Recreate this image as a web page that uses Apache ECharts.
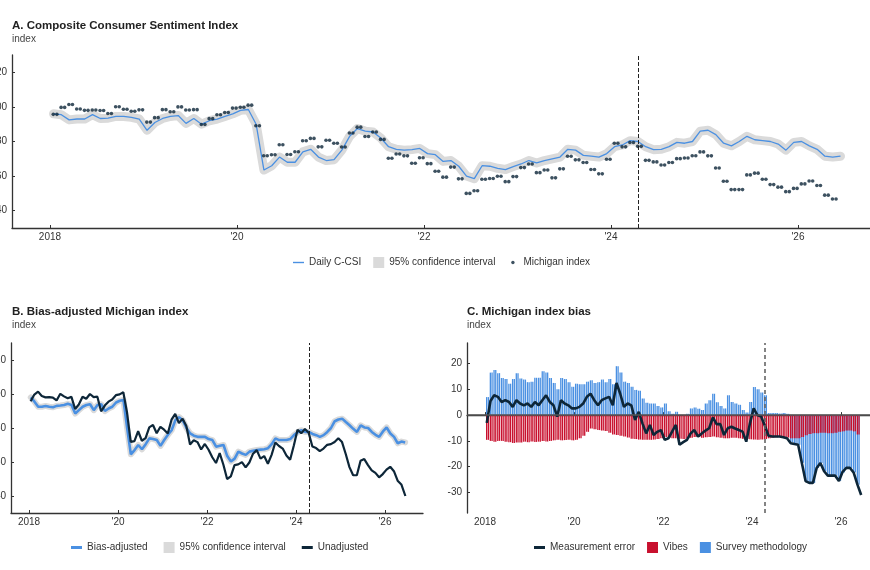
<!DOCTYPE html>
<html>
<head>
<meta charset="utf-8">
<script src="https://cdn.jsdelivr.net/npm/echarts@6/dist/echarts.min.js"></script>
<style>
  html, body { margin: 0; padding: 0; background: #fff; }
  #chart { width: 870px; height: 570px; }
</style>
</head>
<body>
<div id="chart"></div>
<script>
// monthly values, first month is Jan 2018
const startYear = 2018;

// Michigan index, Jan 2018 - May 2026 (shown at both monthly releases)
const michigan = [
  95.7, 99.7, 101.4, 98.8, 98.0, 98.2, 97.9, 96.2, 100.1, 98.6, 97.5, 98.3,
  91.2, 93.8, 98.4, 97.2, 100.0, 98.2, 98.4, 89.8, 93.2, 95.5, 96.8, 99.3,
  99.8, 101.0, 89.1, 71.8, 72.3, 78.1, 72.5, 74.1, 80.4, 81.8, 76.9, 80.7,
  79.0, 76.8, 84.9, 88.3, 82.9, 85.5, 81.2, 70.3, 72.8, 71.7, 67.4, 70.6,
  67.2, 62.8, 59.4, 65.2, 58.4, 50.0, 51.5, 58.2, 58.6, 59.9, 56.8, 59.7,
  64.9, 67.0, 62.0, 63.5, 59.0, 64.2, 71.5, 69.4, 67.9, 63.8, 61.3, 69.7,
  79.0, 76.9, 79.4, 77.2, 69.1, 68.2, 66.4, 67.9, 70.1, 70.5, 71.8, 74.0,
  71.7, 64.7, 57.0, 52.2, 52.2, 60.7, 61.7, 58.2, 55.1, 53.6, 51.0, 52.9,
  55.5, 57.2, 54.6, 49.0, 46.8
];
// latest preliminary reading (mid-June 2026), only in the unadjusted line
const latestYear = 2026.46;
const latestValue = 40;

// Daily C-CSI, read once a month, Jan 2018 - Jun 2026
const ccsi = [
  96, 95.5, 92.5, 93, 93, 95.5, 93.3, 93.5, 94.5, 94.5, 94, 93,
  86.5, 91, 93.3, 94.5, 95, 90.5, 93.3, 90, 92, 93, 94.5, 96,
  98, 98.5, 90, 63.5, 66, 71, 68, 68, 74, 75.5, 71, 69,
  69.5, 75, 83, 87.5, 86, 85.5, 82, 77, 75.5, 75, 75.3, 76,
  73, 72.4, 68.5, 69, 65.7, 60, 58.5, 66, 65.7, 64.5, 63.8, 65.5,
  67, 69, 67.6, 69, 70, 71, 75.5, 75, 72, 71.5, 71, 73,
  77, 78, 80.5, 80, 77, 75.3, 75.5, 77, 79.5, 79, 80, 86,
  86.5, 84, 79, 77.5, 80, 83, 81, 80.5, 80, 78.5, 75, 79.5,
  80, 77.5, 75.5, 71.5, 71, 71.5
];

// Bias-adjusted Michigan index, Jan 2018 - Jun 2026
const biasAdjusted = [
  98, 95.5, 92.5, 92.5, 93, 92.5, 92.2, 93, 93.2, 93.5, 94.2, 93.5,
  88.5, 90.5, 92.5, 93.5, 94, 90.5, 93.5, 94, 90, 91.5, 92.5, 95,
  96, 96.5, 80, 64.5, 67, 70, 67.5, 70.5, 73.9, 73.5, 72.9, 69.5,
  72.9, 76, 78.7, 84.5, 86.4, 84.5, 80, 76.8, 75.5, 74.8, 74.8, 74.8,
  73.5, 72.9, 69, 69.5, 70, 63.5, 60.3, 62, 66.1, 65, 64.2, 66.1,
  66.6, 67.1, 67.3, 67.5, 68.1, 70.5, 73.9, 72.9, 72.9, 72.9, 73.5, 75.8,
  77.5, 78.7, 77.7, 77.7, 76.5, 75.8, 74.8, 75.8, 77.7, 80, 84, 85,
  85.5, 83.5, 81.6, 79.5, 77.7, 81.6, 80.3, 80, 77.7, 76, 74.8, 78,
  80.3, 76.8, 74.8, 71, 72, 71.5
];

// Michigan index bias, Jan 2018 - Jun 2026
const measurementError = [
  -3, 5.5, 7.7, 7.1, 5.1, 5.8, 5.1, 3.2, 5.8, 4.5, 3.8, 4.5,
  3.2, 5.1, 3.8, 5.8, 7.7, 5.1, 3.8, -0.6, 5.8, 4.5, 3.8, 2.6,
  2.6, 3.2, 4.5, 7.1, 8.3, 5.8, 3.8, 5.8, 6.5, 7.1, 3.8, 12.5,
  8.3, 3.2, 4.5, 3.8, -1.9, 1.3, -3.2, -7.1, -3.8, -7.7, -6.5, -5.8,
  -9.6, -9, -6.4, -3.8, -11.5, -10.5, -9.6, -7.1, -5.8, -8.3, -7.1, -6,
  -5.1, -0.9, -3.5, -3.5, -7.7, -5.1, -4.5, -5.2, -5.8, -6.4, -10.3, -3.2,
  2.6, 0, -0.5, -4, -8, -8.3, -8.3, -8.3, -8.6, -9, -10.9, -11.2,
  -11.5, -18.6, -25.6, -26.3, -26.3, -20.5, -18.6, -21.8, -23.5, -23.5, -23.5, -25.6,
  -22, -20.5, -20.5, -22.4, -27, -31
];

// decomposition, Jan 2018 - May 2026
const vibes = [
  -9.6, -10, -10.3, -10, -10, -10.3, -10.5, -10.8, -10.6, -10.6, -10.3, -10.5,
  -10.2, -10.4, -10.3, -10, -10.2, -10, -9.8, -9.6, -9.8, -9.7, -9.6, -9.8,
  -9.6, -9, -8, -6.5, -5.2, -5.5, -5.8, -6, -6.2, -6.8, -7.5, -7.7,
  -8, -8.3, -8.7, -9.2, -9.3, -9.5, -9.6, -9.6, -9.6, -9.5, -9.3, -9,
  -8.5, -8.8, -9, -9, -9.2, -9.3, -9, -8.8, -8.5, -8.5, -8.8, -8.6,
  -8.5, -8.3, -8.6, -8.8, -9, -9, -8.8, -8.8, -9, -9.2, -9.3, -9.4,
  -9.5, -9.6, -9.5, -9.3, -9, -8.8, -8.6, -8.5, -8.5, -8.7, -9, -9,
  -9, -8.5, -7.8, -7.3, -7, -7, -6.8, -6.8, -7, -7, -6.8, -6.5,
  -6.3, -6, -6, -6.3, -7.5
];
const surveyMethod = [
  7, 16.5, 17.5, 16.3, 14.4, 14, 12.2, 14, 16.3, 14.2, 13.8, 12.8,
  13, 14.5, 14.5, 17, 16.5, 14.4, 12.5, 10, 14.4, 14, 12.8, 11,
  12.2, 12, 12, 13, 13.5, 12.5, 12.8, 13.8, 12.8, 14, 12, 19,
  16.5, 13, 12.5, 11, 9.8, 9.5, 6.5, 4.8, 4.5, 4.5, 3.5, 3,
  4.5, 1.5, 0.5, 1.3, 0, 0, 0.5, 2.6, 3, 2.5, 2, 4.5,
  5.8, 8.3, 5, 3.5, 2.6, 7.7, 5.1, 4.5, 4, 2, 1, 5.1,
  10.9, 10, 8.8, 7.7, 0.8, 0.8, 0.8, 0.6, 0.8, 0.5, -1.5, -2,
  -2.5, -10, -17.8, -19, -19.3, -13.5, -11.8, -15, -16.5, -16.5, -16.7, -19,
  -16, -14.5, -14.5, -16, -19.5
];

const xTickYears = [2018, 2020, 2022, 2024, 2026];
const indexTicks = [40, 60, 80, 100, 120];
const biasTicks = [-30, -20, -10, 0, 10, 20];
const breakYear = 2024.29;   // mid-April 2024
const xMin = 2017.594;
const xMax = 2026.856;

const FONT = '"Liberation Sans", Arial, sans-serif';
const BLUE = '#4a90e2';
const NAVY = '#0d2638';
const RED = '#c8102e';
const GREY = '#dadada';

// decimal year of a given day in month i (i = 0 is Jan 2018)
const monthPos = (i, day) => startYear + (i + (day - 1) / 30.4) / 12;
const midMonth = arr => arr.map((v, i) => [monthPos(i, 15), v]);
const releases = arr => arr.flatMap((v, i) => [[monthPos(i, 14), v], [monthPos(i, 28), v]]);

// survey bars sit below the vibes bars when negative (manual stacking,
// since the x axis is a value axis)
const surveyEnds = surveyMethod.map((s, i) => (s < 0 ? vibes[i] + s : s));

function yearLabel(val) {
  const y = Math.round(val);
  return y === 2018 ? '2018' : "'" + String(y).slice(2);
}

function xAxisCfg(gridIndex) {
  return {
    type: 'value', gridIndex: gridIndex, min: xMin, max: xMax,
    axisLine: { lineStyle: { color: '#333', width: 1.3 } },
    axisTick: { show: true, inside: true, length: 3, customValues: xTickYears, lineStyle: { color: '#333' } },
    axisLabel: { customValues: xTickYears, formatter: yearLabel, color: '#333', fontSize: 10, margin: 4, fontFamily: FONT },
    splitLine: { show: false }
  };
}
function yAxisCfg(gridIndex, min, max, ticks) {
  return {
    type: 'value', gridIndex: gridIndex, min: min, max: max,
    axisLine: { show: true, lineStyle: { color: '#333', width: 1.3 } },
    axisTick: { show: true, inside: true, length: 3, customValues: ticks, lineStyle: { color: '#333' } },
    axisLabel: { customValues: ticks, color: '#333', fontSize: 10, margin: 5, fontFamily: FONT },
    splitLine: { show: false }
  };
}

const titleStyle = { fontSize: 11.5, fontWeight: 'bold', color: '#222', fontFamily: FONT };
const subStyle = { fontSize: 10, color: '#444', fontFamily: FONT };
const legendText = { fontSize: 10, color: '#333', fontFamily: FONT };
// legend icons inside an 11 x 11 box
const dotIcon = 'path://M0,0M11,11M3.8,5.5a1.7,1.7,0,1,0,3.4,0a1.7,1.7,0,1,0,-3.4,0z';
const thinLineIcon = 'path://M0,0M11,11M0,4.8L11,4.8L11,6.2L0,6.2z';
const thickLineIcon = 'path://M0,0M11,11M0,4L11,4L11,7L0,7z';

const breakLine = {
  symbol: 'none', silent: true, label: { show: false },
  lineStyle: { type: 'dashed', color: '#222', width: 1 },
  data: [{ xAxis: breakYear }]
};

const chart = echarts.init(document.getElementById('chart'));
chart.setOption({
  animation: false,
  backgroundColor: '#fff',
  title: [
    { text: 'A. Composite Consumer Sentiment Index', subtext: 'index', left: 7, top: 15, itemGap: 2, textStyle: titleStyle, subtextStyle: subStyle },
    { text: 'B. Bias-adjusted Michigan index', subtext: 'index', left: 7, top: 301, itemGap: 2, textStyle: titleStyle, subtextStyle: subStyle },
    { text: 'C. Michigan index bias', subtext: 'index', left: 462, top: 301, itemGap: 2, textStyle: titleStyle, subtextStyle: subStyle }
  ],
  legend: [
    {
      left: 288, top: 252, itemWidth: 11, itemHeight: 11, itemGap: 12, selectedMode: false, textStyle: legendText,
      data: [
        { name: 'Daily C-CSI', icon: thinLineIcon },
        { name: '95% confidence interval', icon: 'rect', itemStyle: { color: GREY } },
        { name: 'Michigan index', icon: dotIcon }
      ]
    },
    {
      left: 66, top: 537, itemWidth: 11, itemHeight: 11, itemGap: 16, selectedMode: false, textStyle: legendText,
      data: [
        { name: 'Bias-adjusted', icon: thickLineIcon },
        { name: '95% confidence interval', icon: 'rect', itemStyle: { color: GREY } },
        { name: 'Unadjusted', icon: thickLineIcon }
      ]
    },
    {
      left: 529, top: 537, itemWidth: 11, itemHeight: 11, itemGap: 12, selectedMode: false, textStyle: legendText,
      data: [
        { name: 'Measurement error', icon: thickLineIcon },
        { name: 'Vibes', icon: 'rect' },
        { name: 'Survey methodology', icon: 'rect' }
      ]
    }
  ],
  grid: [
    { left: 12, top: 55, width: 866, height: 173, outerBoundsMode: 'none', containLabel: false },
    { left: 11, top: 343, width: 412, height: 170, outerBoundsMode: 'none', containLabel: false },
    { left: 467, top: 343, width: 412, height: 170, outerBoundsMode: 'none', containLabel: false }
  ],
  xAxis: [xAxisCfg(0), xAxisCfg(1), xAxisCfg(2)],
  yAxis: [
    yAxisCfg(0, 30, 130, indexTicks),
    yAxisCfg(1, 30, 130, indexTicks),
    yAxisCfg(2, -38, 28, biasTicks)
  ],
  series: [
    // A
    {
      name: '95% confidence interval', type: 'line', xAxisIndex: 0, yAxisIndex: 0,
      data: midMonth(ccsi), symbol: 'none', color: GREY, silent: true, z: 1,
      lineStyle: { color: GREY, width: 9, join: 'round', cap: 'round' }
    },
    {
      name: 'Daily C-CSI', type: 'line', xAxisIndex: 0, yAxisIndex: 0,
      data: midMonth(ccsi), symbol: 'none', color: BLUE, z: 2,
      lineStyle: { color: BLUE, width: 1.3 },
      markLine: breakLine
    },
    {
      name: 'Michigan index', type: 'scatter', xAxisIndex: 0, yAxisIndex: 0,
      data: releases(michigan), symbolSize: 3.6, color: NAVY, z: 3
    },
    // B
    {
      name: '95% confidence interval', type: 'line', xAxisIndex: 1, yAxisIndex: 1,
      data: midMonth(biasAdjusted), symbol: 'none', color: GREY, silent: true, z: 1,
      lineStyle: { color: GREY, width: 6, join: 'round', cap: 'round' }
    },
    {
      name: 'Bias-adjusted', type: 'line', xAxisIndex: 1, yAxisIndex: 1,
      data: midMonth(biasAdjusted), symbol: 'none', color: BLUE, z: 2,
      lineStyle: { color: BLUE, width: 2.6 },
      markLine: breakLine
    },
    {
      name: 'Unadjusted', type: 'line', xAxisIndex: 1, yAxisIndex: 1,
      data: releases(michigan).concat([[latestYear, latestValue]]), symbol: 'none', color: NAVY, z: 3,
      lineStyle: { color: NAVY, width: 2.2 }
    },
    // C
    {
      name: 'Survey methodology', type: 'bar', xAxisIndex: 2, yAxisIndex: 2,
      data: releases(surveyEnds), barWidth: 1.3, barGap: '-100%', color: BLUE, z: 1
    },
    {
      name: 'Vibes', type: 'bar', xAxisIndex: 2, yAxisIndex: 2,
      data: releases(vibes), barWidth: 1.3, barGap: '-100%', color: RED, z: 2
    },
    {
      name: 'Measurement error', type: 'line', xAxisIndex: 2, yAxisIndex: 2,
      data: midMonth(measurementError), symbol: 'none', color: NAVY, z: 3,
      lineStyle: { color: NAVY, width: 2.6 },
      markLine: {
        symbol: 'none', silent: true, label: { show: false },
        data: [
          { xAxis: breakYear, lineStyle: { type: [4, 3], color: '#666', width: 1.6 } },
          { yAxis: 0, lineStyle: { type: 'solid', color: '#555', width: 1.5 } }
        ]
      }
    }
  ]
});
</script>
</body>
</html>
